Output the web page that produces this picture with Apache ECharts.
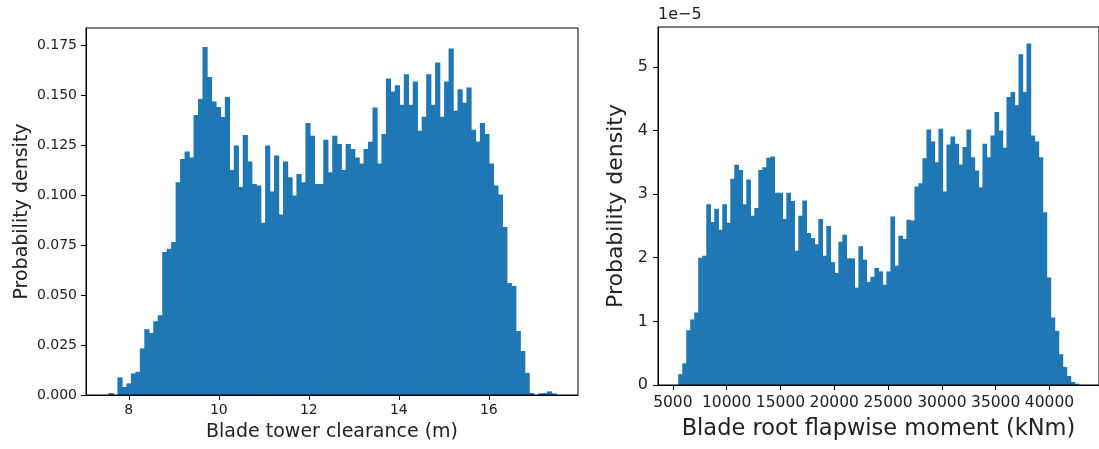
<!DOCTYPE html>
<html>
<head>
<meta charset="utf-8">
<script src="https://cdn.jsdelivr.net/npm/echarts@6/dist/echarts.min.js"></script>
<style>
html,body{margin:0;padding:0;background:#fff;}
#chart{width:1099px;height:449px;}
</style>
</head>
<body>
<div id="chart"></div>
<script>
// ---- Data ----
// Left: histogram of blade tower clearance (m), 100 bins
const clearanceBinStart = 7.55;
const clearanceBinWidth = 0.0994;
const clearanceDensity = [
  0.0010, 0.0000, 0.0088, 0.0040, 0.0058, 0.0108, 0.0116, 0.0233, 0.0329, 0.0310,
  0.0369, 0.0399, 0.0715, 0.0731, 0.0765, 0.1064, 0.1180, 0.1218, 0.1188, 0.1400,
  0.1480, 0.1740, 0.1590, 0.1468, 0.1440, 0.1390, 0.1490, 0.1125, 0.1247, 0.1040,
  0.1300, 0.1167, 0.1055, 0.1047, 0.0861, 0.1247, 0.1017, 0.1197, 0.0902, 0.1168,
  0.1089, 0.0997, 0.1105, 0.1064, 0.1360, 0.1296, 0.1055, 0.1055, 0.1276, 0.1114,
  0.1296, 0.1255, 0.1125, 0.1255, 0.1230, 0.1188, 0.1158, 0.1230, 0.1266, 0.1438,
  0.1158, 0.1305, 0.1582, 0.1517, 0.1549, 0.1451, 0.1604, 0.1451, 0.1567, 0.1321,
  0.1391, 0.1604, 0.1451, 0.1662, 0.1391, 0.1567, 0.1732, 0.1421, 0.1529, 0.1461,
  0.1537, 0.1326, 0.1268, 0.1360, 0.1305, 0.1158, 0.1047, 0.1002, 0.0840, 0.0560,
  0.0545, 0.0320, 0.0220, 0.0110, 0.0010, 0.0000, 0.0008, 0.0010, 0.0018, 0.0008
];
const clearanceXTicks = [8, 10, 12, 14, 16];
const clearanceYTicks = [0, 0.025, 0.05, 0.075, 0.1, 0.125, 0.15, 0.175];

// Right: histogram of blade root flapwise moment (kNm), 100 bins, density in units of 1e-5
const momentBinStart = 5499;
const momentBinWidth = 372;
const momentDensity = [
  0.17, 0.34, 0.86, 1.03, 1.14, 2.00, 2.03, 2.84, 2.56, 2.77,
  2.44, 2.84, 2.55, 3.24, 3.46, 3.38, 2.84, 3.23, 2.66, 2.78,
  3.38, 3.42, 3.57, 3.59, 3.02, 3.02, 2.61, 3.02, 2.89, 2.11,
  2.66, 2.90, 2.39, 2.31, 2.21, 2.61, 2.03, 2.50, 1.93, 1.76,
  2.25, 2.36, 1.99, 1.99, 1.53, 2.18, 1.97, 1.62, 1.70, 1.84,
  1.785, 1.575, 1.785, 2.646, 1.874, 2.346, 2.294, 2.598, 2.583, 3.118,
  3.17, 3.564, 4.016, 3.827, 3.50, 4.026, 3.039, 3.78, 3.905, 3.79,
  3.465, 3.738, 4.016, 3.58, 3.37, 3.108, 3.79, 3.58, 3.92, 4.289,
  4.00, 3.727, 4.525, 4.604, 4.394, 5.197, 4.604, 5.365, 3.92, 3.827,
  3.58, 2.714, 1.69, 1.06, 0.85, 0.483, 0.283, 0.142, 0.047, 0.02
];
const momentXTicks = [5000, 10000, 15000, 20000, 25000, 30000, 35000, 40000];
const momentYTicks = [0, 1, 2, 3, 4, 5];

// ---- Build histogram rectangles data ----
function binsToData(start, width, values) {
  return values.map((v, i) => [start + i * width, start + (i + 1) * width, v]);
}
const BAR = '#1f77b4';
const TXT = '#222222';
const FONT = 'DejaVu Sans';

function renderBin(params, api) {
  const p0 = api.coord([api.value(0), api.value(2)]);
  const p1 = api.coord([api.value(1), 0]);
  // small overlap to avoid anti-aliasing seams between adjacent bins
  return {
    type: 'rect',
    shape: { x: p0[0], y: p0[1], width: p1[0] - p0[0] + 0.7, height: p1[1] - p0[1] },
    style: { fill: BAR }
  };
}

function xAxisCfg(gridIndex, min, max, ticks, name, tickFont, nameFont, labelMargin, nameGap, fmt) {
  return {
    type: 'value', gridIndex, min, max, position: 'bottom', z: 10,
    name, nameLocation: 'middle', nameGap,
    nameTextStyle: { fontFamily: FONT, fontSize: nameFont, color: TXT },
    axisLine: { show: true, onZero: false, lineStyle: { color: '#000', width: 1 } },
    axisTick: { show: true, length: 5, inside: false, customValues: ticks, lineStyle: { color: '#000', width: 1 } },
    axisLabel: { show: true, customValues: ticks, margin: labelMargin, fontFamily: FONT, fontSize: tickFont, color: TXT, formatter: fmt, hideOverlap: false, showMinLabel: true, showMaxLabel: true },
    splitLine: { show: false }
  };
}
function yAxisCfg(gridIndex, min, max, ticks, name, tickFont, nameFont, labelMargin, nameGap, fmt) {
  return {
    type: 'value', gridIndex, min, max, z: 10,
    name, nameLocation: 'middle', nameGap,
    nameTextStyle: { fontFamily: FONT, fontSize: nameFont, color: TXT },
    axisLine: { show: true, onZero: false, lineStyle: { color: '#000', width: 1 } },
    axisTick: { show: true, length: 5, inside: false, customValues: ticks, lineStyle: { color: '#000', width: 1 } },
    axisLabel: { show: true, customValues: ticks, margin: labelMargin, fontFamily: FONT, fontSize: tickFont, color: TXT, formatter: fmt },
    splitLine: { show: false }
  };
}

const chart = echarts.init(document.getElementById('chart'), null, { renderer: 'canvas' });
chart.setOption({
  animation: false,
  backgroundColor: '#ffffff',
  grid: [
    { left: 86, top: 28, width: 492, height: 367, show: true, borderColor: '#000', borderWidth: 1, backgroundColor: 'transparent', z: 20 },
    { left: 658, top: 27, width: 452, height: 358, show: true, borderColor: '#000', borderWidth: 1, backgroundColor: 'transparent', z: 20 }
  ],
  xAxis: [
    xAxisCfg(0, 7.05, 17.98, clearanceXTicks, 'Blade tower clearance (m)', 14, 19, 8, 28, v => String(v)),
    xAxisCfg(1, 3620, 44600, momentXTicks, 'Blade root flapwise moment (kNm)', 15.5, 22.5, 10, 33, v => String(v))
  ],
  yAxis: [
    yAxisCfg(0, 0, 0.1835, clearanceYTicks, 'Probability density', 14, 19, 9, 54, v => v.toFixed(3)),
    yAxisCfg(1, 0, 5.625, momentYTicks, 'Probability density', 16, 22, 10, 31, v => String(v))
  ],
  graphic: [
    { type: 'text', left: 658, top: 7, style: { text: '1e\u22125', font: '16px "DejaVu Sans"', fill: TXT } }
  ],
  series: [
    {
      type: 'custom', xAxisIndex: 0, yAxisIndex: 0, renderItem: renderBin,
      encode: { x: [0, 1], y: 2 }, clip: true, z: 2,
      data: binsToData(clearanceBinStart, clearanceBinWidth, clearanceDensity)
    },
    {
      type: 'custom', xAxisIndex: 1, yAxisIndex: 1, renderItem: renderBin,
      encode: { x: [0, 1], y: 2 }, clip: true, z: 2,
      data: binsToData(momentBinStart, momentBinWidth, momentDensity)
    }
  ]
});
</script>
</body>
</html>
